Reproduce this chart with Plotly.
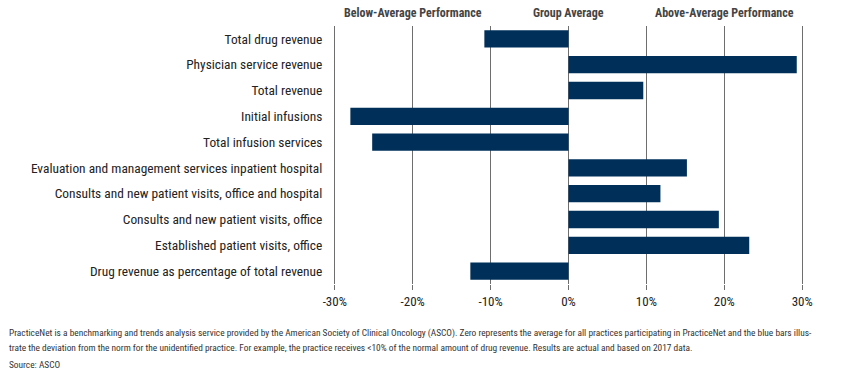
import plotly.graph_objects as go

categories = [
    "Total drug revenue",
    "Physician service revenue",
    "Total revenue",
    "Initial infusions",
    "Total infusion services",
    "Evaluation and management services inpatient hospital",
    "Consults and new patient visits, office and hospital",
    "Consults and new patient visits, office",
    "Established patient visits, office",
    "Drug revenue as percentage of total revenue",
]
values = [-10.8, 29.3, 9.6, -28.0, -25.2, 15.2, 11.8, 19.3, 23.2, -12.6]

tick_vals = [-30, -20, -10, 0, 10, 20, 30]
tick_text = ["-30%", "-20%", "-10%", "0%", "10%", "20%", "30%"]

headers = ["Below-Average Performance", "Group Average", "Above-Average Performance"]
header_x = [-20, 0, 20]

note_line1 = ("PracticeNet is a benchmarking and trends analysis service provided by the American Society of Clinical Oncology (ASCO). "
              "Zero represents the average for all practices participating in PracticeNet and the blue bars illus-")
note_line2 = ("trate the deviation from the norm for the unidentified practice. For example, the practice receives &lt;10% of the normal "
              "amount of drug revenue. Results are actual and based on 2017 data.")
source = "Source: ASCO"

NARROW = "Liberation Sans Narrow, Roboto Condensed, Arial Narrow, Liberation Sans, sans-serif"

fig = go.Figure(go.Bar(
    x=values, y=categories, orientation="h",
    marker=dict(color="#00305a", line=dict(width=0)),
    hoverinfo="skip",
))

W, H = 848, 371
L, R, T, B = 326.5, 37.9, 26, 87

fig.update_layout(
    width=W, height=H,
    margin=dict(l=L, r=R, t=T, b=B, pad=0),
    paper_bgcolor="white", plot_bgcolor="white",
    bargap=0.33,
    showlegend=False,
    font=dict(family=NARROW, size=13, color="#222222"),
)
fig.update_xaxes(
    range=[-31, 31],
    tickvals=tick_vals, ticktext=tick_text,
    showgrid=True, gridcolor="#6e6e6e", gridwidth=1,
    zeroline=True, zerolinecolor="#6e6e6e", zerolinewidth=1,
    ticks="outside", ticklen=5, tickcolor="#6e6e6e", tickwidth=1,
    showline=False,
    tickfont=dict(size=13, color="#222222"),
    fixedrange=True,
)
fig.update_yaxes(
    autorange="reversed",
    showgrid=False, zeroline=False, showline=False,
    ticks="outside", ticklen=1, tickcolor="rgba(0,0,0,0)",
    tickfont=dict(size=13.4, color="#222222"),
    fixedrange=True,
)

pw = W - L - R
ph = H - T - B
def py(p):
    return (H - B - p) / ph
def px(p):
    return (p - L) / pw

for hx, ht in zip(header_x, headers):
    fig.add_annotation(x=hx, xref="x", y=py(12.7), yref="paper", text="<b>" + ht + "</b>",
                       showarrow=False, xanchor="center", yanchor="middle",
                       font=dict(size=12, color="#444444", family=NARROW))

for yy, txt in [(333, note_line1), (347, note_line2), (364.5, source)]:
    fig.add_annotation(x=px(6), xref="paper", y=py(yy), yref="paper", text=txt,
                       showarrow=False, xanchor="left", yanchor="middle",
                       font=dict(size=9.4, color="#333333", family=NARROW))

fig.write_html("out.html", config={"displayModeBar": False},
               post_script="document.body.style.margin='0';document.body.style.overflow='hidden';")
